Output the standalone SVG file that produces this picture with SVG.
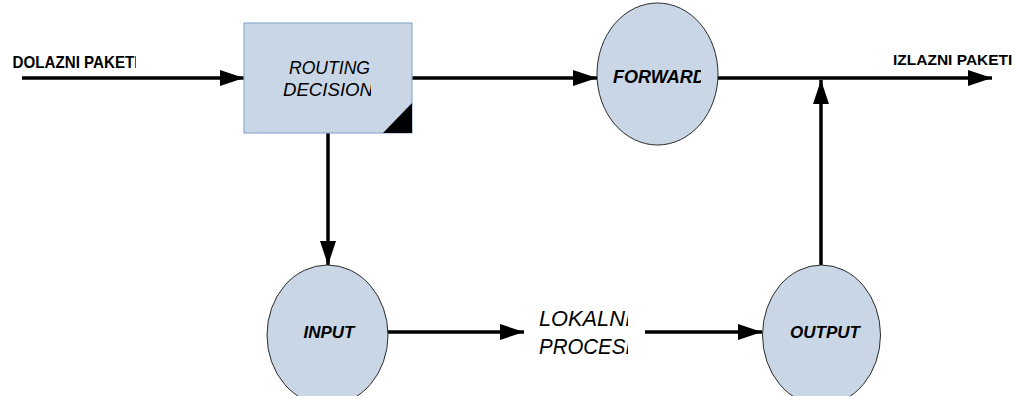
<svg xmlns="http://www.w3.org/2000/svg" width="1016" height="396" viewBox="0 0 1016 396">
  <style>
    .node { fill: #c9d6e6; }
    .circ { stroke: #2b2b2b; stroke-width: 1; }
    .box { stroke: #8eaad3; stroke-width: 1.2; }
    .edge { stroke: #000; stroke-width: 3.5; fill: none; }
    .lbl { font-family: "Liberation Sans", Arial, sans-serif; fill: #000; }
    .b { font-weight: bold; }
    .i { font-style: italic; }
  </style>
  <defs>
    <marker id="arrow" viewBox="0 0 24 16" refX="24" refY="8" markerWidth="24" markerHeight="16" markerUnits="userSpaceOnUse" orient="auto">
      <path d="M0,0 L24,8 L0,16 Z" fill="#000"/>
    </marker>
    <clipPath id="cIn"><rect x="0" y="40" width="136" height="40"/></clipPath>
    <clipPath id="cOut"><rect x="880" y="30" width="133" height="40"/></clipPath>
    <clipPath id="cRoute"><rect x="260" y="40" width="111" height="70"/></clipPath>
    <clipPath id="cFwd"><rect x="600" y="55" width="101" height="40"/></clipPath>
    <clipPath id="cLocal"><rect x="520" y="295" width="108" height="70"/></clipPath>
  </defs>

  <!-- connectors -->
  <g id="connectors">
    <line class="edge" x1="22" y1="78" x2="244" y2="78" marker-end="url(#arrow)"/>
    <line class="edge" x1="412" y1="78" x2="597" y2="78" marker-end="url(#arrow)"/>
    <line class="edge" x1="718" y1="78" x2="992" y2="78" marker-end="url(#arrow)"/>
    <line class="edge" x1="328" y1="133" x2="328" y2="265" marker-end="url(#arrow)"/>
    <line class="edge" x1="388" y1="332" x2="524" y2="332" marker-end="url(#arrow)"/>
    <line class="edge" x1="645" y1="332" x2="762" y2="332" marker-end="url(#arrow)"/>
    <line class="edge" x1="821" y1="266" x2="821" y2="80" marker-end="url(#arrow)"/>
  </g>

  <!-- free labels -->
  <g id="label-in">
    <text class="lbl b" x="12.5" y="68" font-size="16.5" textLength="126" lengthAdjust="spacingAndGlyphs" clip-path="url(#cIn)">DOLAZNI PAKETI</text>
  </g>
  <g id="label-out">
    <text class="lbl b" x="893" y="64.5" font-size="15.5" clip-path="url(#cOut)">IZLAZNI PAKETI</text>
  </g>

  <!-- routing decision -->
  <g id="routing-decision">
    <rect class="node box" x="244" y="23" width="168" height="110"/>
    <path d="M383,133 L412,133 L412,103 Z" fill="#000"/>
    <g clip-path="url(#cRoute)">
      <text class="lbl i" x="289" y="74" font-size="18.5" textLength="81" lengthAdjust="spacingAndGlyphs">ROUTING</text>
      <text class="lbl i" x="283" y="95.5" font-size="18.5" textLength="90" lengthAdjust="spacingAndGlyphs">DECISION</text>
    </g>
  </g>

  <!-- forward chain -->
  <g id="forward">
    <ellipse class="node circ" cx="657.5" cy="74" rx="60.5" ry="71"/>
    <text class="lbl b i" x="613" y="82.5" font-size="18" clip-path="url(#cFwd)">FORWARD</text>
  </g>

  <!-- input chain -->
  <g id="input">
    <ellipse class="node circ" cx="327.5" cy="335" rx="60.5" ry="70"/>
    <text class="lbl b i" x="329" y="338" font-size="17" text-anchor="middle">INPUT</text>
  </g>

  <!-- local processes -->
  <g id="local-processes">
    <g clip-path="url(#cLocal)">
      <text class="lbl i" x="539" y="326" font-size="22" textLength="92" lengthAdjust="spacingAndGlyphs">LOKALNI</text>
      <text class="lbl i" x="539" y="354" font-size="22" textLength="92" lengthAdjust="spacingAndGlyphs">PROCESI</text>
    </g>
  </g>

  <!-- output chain -->
  <g id="output">
    <ellipse class="node circ" cx="821.5" cy="335" rx="59" ry="70"/>
    <text class="lbl b i" x="825" y="338" font-size="17" text-anchor="middle">OUTPUT</text>
  </g>
</svg>
